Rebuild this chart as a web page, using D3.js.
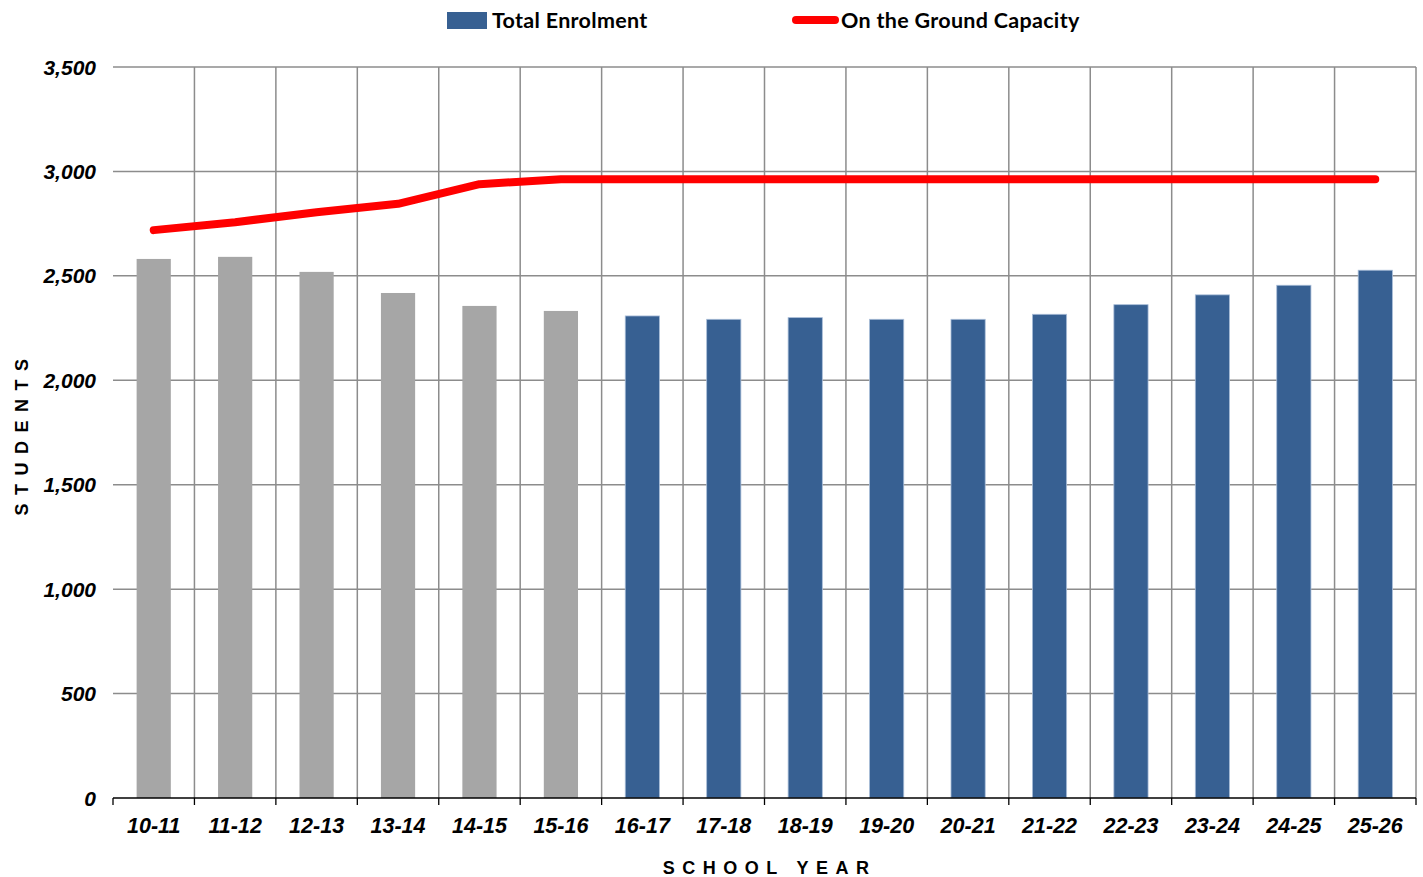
<!DOCTYPE html>
<html><head><meta charset="utf-8">
<script src="https://cdn.jsdelivr.net/npm/d3@7"></script>
<style>body{margin:0;background:#fff}svg{display:block}</style>
</head><body>
<svg id="chart" width="1423" height="877"></svg>
<script>
const categories = ["10-11","11-12","12-13","13-14","14-15","15-16","16-17","17-18","18-19","19-20","20-21","21-22","22-23","23-24","24-25","25-26"];
const enrolment = [2581,2591,2519,2418,2356,2332,2308,2292,2300,2292,2292,2316,2362,2409,2455,2527];
const capacity = [2719,2757,2805,2845,2939,2962,2962,2962,2962,2962,2962,2962,2962,2962,2962,2962];
const historicalCount = 6;
const yTicks = [0,500,1000,1500,2000,2500,3000,3500];
const seriesNames = ["Total Enrolment","On the Ground Capacity"];

const svg = d3.select("#chart");
const L = 113, R = 1416, T = 67, B = 798;
const x = d3.scaleBand().domain(categories).range([L, R]).paddingInner(0.58).paddingOuter(0.29);
const y = d3.scaleLinear().domain([0, 3500]).range([B, T]);
const step = x.step();
const gridColor = "#8c8c8c";
const tickFont = "'Liberation Sans', Arial, sans-serif";

// horizontal gridlines
svg.append("g").selectAll("line").data(yTicks.filter(d => d > 0)).join("line")
  .attr("x1", L).attr("x2", R).attr("y1", d => y(d)).attr("y2", d => y(d))
  .attr("stroke", gridColor).attr("stroke-width", 1.5);
// vertical gridlines at band boundaries
svg.append("g").selectAll("line").data(d3.range(1, categories.length + 1)).join("line")
  .attr("x1", i => L + i * step).attr("x2", i => L + i * step).attr("y1", T).attr("y2", B)
  .attr("stroke", gridColor).attr("stroke-width", 1.5);

// bars
svg.append("g").selectAll("rect").data(enrolment).join("rect")
  .attr("x", (d, i) => x(categories[i])).attr("width", x.bandwidth())
  .attr("y", d => y(d)).attr("height", d => B - y(d))
  .attr("fill", (d, i) => i < historicalCount ? "#a6a6a6" : "#376092")
  .attr("stroke", (d, i) => i < historicalCount ? "none" : "#a9bdd8")
  .attr("stroke-width", 0.8);

// capacity line
const line = d3.line().x((d, i) => x(categories[i]) + x.bandwidth() / 2).y(d => y(d));
svg.append("path").datum(capacity).attr("d", line)
  .attr("fill", "none").attr("stroke", "#ff0000").attr("stroke-width", 8)
  .attr("stroke-linecap", "round").attr("stroke-linejoin", "round");

// x axis
svg.append("line").attr("x1", L).attr("x2", R).attr("y1", B).attr("y2", B)
  .attr("stroke", "#000").attr("stroke-width", 1.6);
svg.append("g").selectAll("line").data(d3.range(0, categories.length + 1)).join("line")
  .attr("x1", i => L + i * step).attr("x2", i => L + i * step).attr("y1", B).attr("y2", B + 7)
  .attr("stroke", "#000").attr("stroke-width", 1.3);
svg.append("g").selectAll("text").data(categories).join("text")
  .attr("x", d => x(d) + x.bandwidth() / 2).attr("y", 833)
  .attr("text-anchor", "middle").attr("font-family", tickFont)
  .attr("font-size", 21.5).attr("font-weight", "bold").attr("font-style", "italic")
  .text(d => d);

// y tick labels
const fmt = d3.format(",");
svg.append("g").selectAll("text").data(yTicks).join("text")
  .attr("x", 96).attr("y", d => y(d) + 7.5)
  .attr("text-anchor", "end").attr("font-family", tickFont)
  .attr("font-size", 21).attr("font-weight", "bold").attr("font-style", "italic")
  .text(d => fmt(d));

// axis titles
svg.append("text").attr("transform", "translate(28,437) rotate(-90)")
  .attr("text-anchor", "middle").attr("font-family", tickFont)
  .attr("font-size", 18).attr("font-weight", "bold").attr("letter-spacing", 8.5)
  .attr("dx", 4).text("STUDENTS");
svg.append("text").attr("x", 766).attr("y", 874)
  .attr("text-anchor", "middle").attr("font-family", tickFont)
  .attr("font-size", 18).attr("font-weight", "bold").attr("letter-spacing", 7.5)
  .attr("dx", 3.7).text("SCHOOL YEAR");

// legend
const legFont = "Lato, 'Open Sans', sans-serif";
svg.append("rect").attr("x", 447).attr("y", 12).attr("width", 40).attr("height", 17).attr("fill", "#376092");
svg.append("text").attr("x", 492).attr("y", 28).attr("font-family", legFont)
  .attr("font-size", 21.5).attr("font-weight", "bold").attr("letter-spacing", 0.3).text(seriesNames[0]);
svg.append("line").attr("x1", 796).attr("x2", 835).attr("y1", 20).attr("y2", 20)
  .attr("stroke", "#ff0000").attr("stroke-width", 8).attr("stroke-linecap", "round");
svg.append("text").attr("x", 841).attr("y", 28).attr("font-family", legFont)
  .attr("font-size", 21.5).attr("font-weight", "bold").attr("letter-spacing", 0.3).text(seriesNames[1]);
</script>
</body></html>
